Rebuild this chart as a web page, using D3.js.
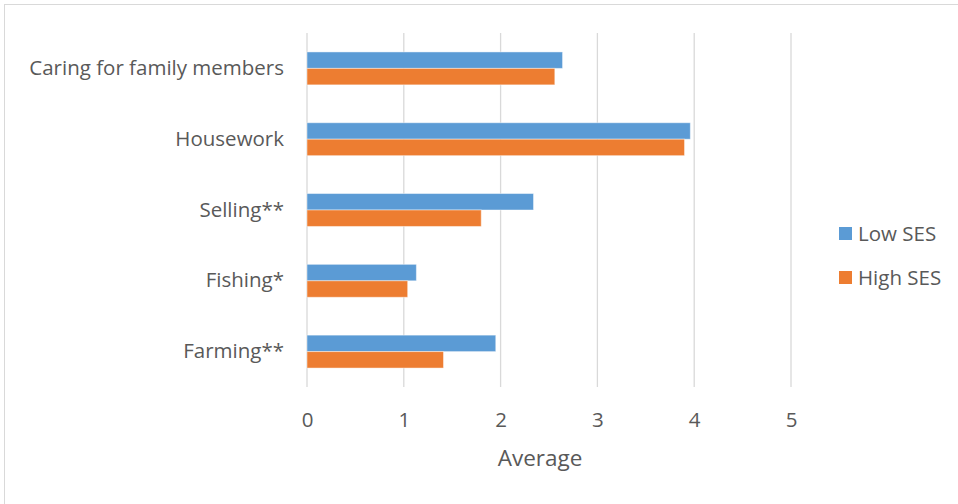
<!DOCTYPE html>
<html>
<head>
<meta charset="utf-8">
<script src="https://cdn.jsdelivr.net/npm/d3@7"></script>
<style>
  html, body { margin: 0; padding: 0; background: #fff; }
  svg { display: block; }
  text { font-family: "Open Sans", "Noto Sans", sans-serif; fill: #595959; }
</style>
</head>
<body>
<svg id="chart" width="958" height="504"></svg>
<script>
// Activities (top to bottom) and the average score per SES group
const categories = ["Caring for family members", "Housework", "Selling**", "Fishing*", "Farming**"];
const lowSES  = [2.64, 3.96, 2.34, 1.13, 1.95];
const highSES = [2.56, 3.90, 1.80, 1.04, 1.41];
const seriesNames = ["Low SES", "High SES"];
const seriesColors = ["#5b9bd5", "#ed7d31"];
const xTicks = [0, 1, 2, 3, 4, 5];
const xTitle = "Average";

const svg = d3.select("#chart");

// outer frame of the chart area
svg.append("rect")
  .attr("x", 4.5).attr("y", 4.5)
  .attr("width", 1200).attr("height", 1200)
  .attr("fill", "none").attr("stroke", "#d9d9d9").attr("stroke-width", 1);

const plot = { left: 307, right: 791, top: 33, bottom: 387 };

const x = d3.scaleLinear().domain([0, 5]).range([plot.left, plot.right]);
const y = d3.scaleBand().domain(categories).range([plot.top, plot.bottom])
  .paddingInner(0.535).paddingOuter(0.2675);
const ySub = d3.scaleBand().domain(seriesNames).range([0, y.bandwidth()]);

// vertical gridlines
svg.append("g").selectAll("line").data(xTicks).join("line")
  .attr("x1", d => x(d)).attr("x2", d => x(d))
  .attr("y1", plot.top).attr("y2", plot.bottom)
  .attr("stroke", "#d9d9d9").attr("stroke-width", 1.3);

// bars
const rows = categories.map((c, i) => ({ cat: c, values: [lowSES[i], highSES[i]] }));
svg.append("g").selectAll("g").data(rows).join("g")
  .attr("transform", d => `translate(0,${y(d.cat)})`)
  .selectAll("rect").data(d => d.values.map((v, j) => ({ v, s: seriesNames[j], c: seriesColors[j] })))
  .join("rect")
  .attr("x", x(0))
  .attr("y", d => ySub(d.s))
  .attr("width", d => x(d.v) - x(0))
  .attr("height", ySub.bandwidth())
  .attr("fill", d => d.c)
  .attr("stroke", "#ffffff").attr("stroke-opacity", 0.45).attr("stroke-width", 1);

// x axis tick labels
const xAxis = d3.axisBottom(x).tickValues(xTicks).tickSize(0).tickPadding(0).tickFormat(d3.format("d"));
const gx = svg.append("g").attr("transform", `translate(0,${plot.bottom})`).call(xAxis);
gx.select(".domain").remove();
gx.selectAll("text").attr("dy", "0.35em").attr("y", 33)
  .style("font-size", "20.5px").attr("fill", "#595959");

// category labels
const yAxis = d3.axisLeft(y).tickSize(0).tickPadding(0);
const gy = svg.append("g").attr("transform", `translate(${plot.left - 23},0)`).call(yAxis);
gy.select(".domain").remove();
gy.selectAll("text").style("font-size", "20.5px").attr("fill", "#595959");

// axis title
svg.append("text")
  .attr("x", 540).attr("y", 458).attr("dy", "0.35em")
  .attr("text-anchor", "middle")
  .style("font-size", "22.5px")
  .text(xTitle);

// legend
const legend = svg.append("g").selectAll("g").data(seriesNames).join("g")
  .attr("transform", (d, i) => `translate(839,${227 + i * 44})`);
legend.append("rect").attr("width", 13).attr("height", 13)
  .attr("fill", (d, i) => seriesColors[i]);
legend.append("text").attr("x", 19).attr("y", 6.5).attr("dy", "0.35em")
  .style("font-size", "20.5px").text(d => d);
</script>
</body>
</html>
